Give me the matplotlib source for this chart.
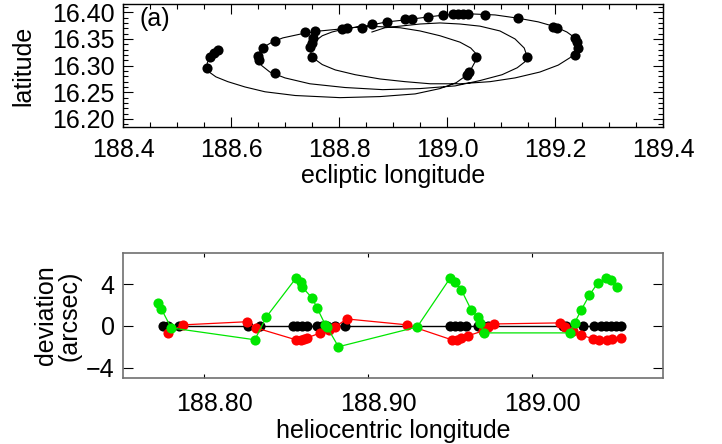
import matplotlib
matplotlib.use("Agg")
import matplotlib.pyplot as plt
import matplotlib.transforms as mtransforms
from matplotlib.ticker import MultipleLocator, FormatStrFormatter

plt.rcParams['font.family'] = ['Liberation Sans', 'DejaVu Sans']

# ---------------- panel (a): apparent path ----------------
path_lon = [188.578, 188.569, 188.561, 188.556, 188.556, 188.561, 188.572, 188.594, 188.626, 188.663,
            188.719, 188.802, 188.876, 188.941, 188.987, 189.017, 189.035, 189.046, 189.054, 189.054,
            189.044, 189.024, 188.987, 188.950, 188.913, 188.876, 188.839, 188.811, 188.787, 188.769,
            188.756, 188.748, 188.748, 188.754, 188.769, 188.793, 188.830, 188.876, 188.922, 188.969,
            189.024, 189.080, 189.126, 189.172, 189.206, 189.228, 189.241, 189.243, 189.237, 189.222,
            189.200, 189.169, 189.131, 189.089, 189.043, 188.996, 188.963, 188.926, 188.889, 188.848,
            188.806, 188.765, 188.728, 188.696, 188.676, 188.661, 188.652, 188.650, 188.657, 188.672,
            188.700, 188.746, 188.811, 188.881, 188.950, 189.015, 189.061, 189.102, 189.130, 189.144,
            189.148, 189.143, 189.126, 189.098, 189.061, 189.024, 188.987, 188.950, 188.913, 188.885,
            188.861]
path_lat = [16.331, 16.324, 16.316, 16.305, 16.296, 16.287, 16.279, 16.270, 16.260, 16.251,
            16.244, 16.240, 16.242, 16.247, 16.257, 16.268, 16.281, 16.296, 16.311, 16.322,
            16.333, 16.344, 16.356, 16.365, 16.371, 16.373, 16.373, 16.369, 16.363, 16.356,
            16.346, 16.335, 16.324, 16.313, 16.302, 16.292, 16.283, 16.275, 16.270, 16.266,
            16.266, 16.270, 16.277, 16.288, 16.301, 16.315, 16.328, 16.339, 16.352, 16.363,
            16.373, 16.382, 16.389, 16.395, 16.397, 16.395, 16.391, 16.386, 16.382, 16.374,
            16.369, 16.365, 16.359, 16.352, 16.344, 16.335, 16.324, 16.313, 16.300, 16.288,
            16.277, 16.266, 16.259, 16.255, 16.257, 16.262, 16.272, 16.283, 16.296, 16.307,
            16.318, 16.333, 16.350, 16.365, 16.374, 16.378, 16.380, 16.378, 16.374, 16.371,
            16.363]

obs_lon = [188.576, 188.569, 188.561, 188.556, 188.650, 188.652, 188.659, 188.681, 188.681,
           188.737, 188.756, 188.752, 188.750, 188.746, 188.750, 188.806, 188.815, 188.843,
           188.861, 188.889, 188.922, 188.935, 188.965, 188.993, 189.011, 189.020, 189.030,
           189.039, 189.070, 189.131, 189.196, 189.204, 189.237, 189.241, 189.243, 189.237,
           189.054, 189.041, 189.037, 189.148]
obs_lat = [16.330, 16.324, 16.316, 16.296, 16.318, 16.311, 16.333, 16.346, 16.287,
           16.363, 16.365, 16.352, 16.343, 16.334, 16.316, 16.369, 16.371, 16.371,
           16.378, 16.382, 16.387, 16.387, 16.391, 16.395, 16.397, 16.397, 16.397,
           16.397, 16.395, 16.389, 16.373, 16.371, 16.352, 16.344, 16.333, 16.320,
           16.316, 16.288, 16.283, 16.316]

# ---------------- panel (b): deviations ----------------
black_lon = [188.775, 188.778, 188.785, 188.827, 188.834, 188.854, 188.857, 188.860, 188.863, 188.869,
             188.872, 188.875, 188.880, 188.886, 188.950, 188.953, 188.956, 188.960, 188.967, 188.970,
             188.973, 189.019, 189.021, 189.031, 189.038, 189.042, 189.045, 189.048, 189.051, 189.054]
black_dev = [0.0] * len(black_lon)

red_lon = [188.778, 188.787, 188.826, 188.832, 188.856, 188.859, 188.861, 188.863, 188.871, 188.876,
           188.880, 188.887, 188.924, 188.951, 188.954, 188.957, 188.961, 188.970, 188.973, 188.977,
           189.017, 189.020, 189.025, 189.030, 189.037, 189.041, 189.046, 189.049, 189.054]
red_dev = [-0.67, 0.1, 0.4, -0.2, -1.33, -1.33, -1.24, -1.14, -0.67, -0.38,
           -0.1, 0.67, 0.1, -1.33, -1.33, -1.14, -0.95, -0.48, -0.1, 0.19,
           0.29, -0.1, -0.48, -0.86, -1.24, -1.33, -1.33, -1.24, -1.14]

green_lon = [188.772, 188.774, 188.780, 188.831, 188.838, 188.856, 188.859, 188.860, 188.866, 188.869,
             188.874, 188.875, 188.882, 188.930, 188.950, 188.953, 188.957, 188.963, 188.967, 188.968,
             188.971, 189.023, 189.026, 189.030, 189.035, 189.040, 189.045, 189.048, 189.052]
green_dev = [2.19, 1.62, -0.19, -1.33, 0.86, 4.57, 4.19, 3.71, 2.67, 1.71,
             0.1, -0.1, -2.0, -0.1, 4.57, 4.19, 3.43, 1.52, 0.86, 0.29,
             -0.67, -0.67, 0.29, 1.52, 2.95, 4.1, 4.57, 4.38, 3.71]

top_xticks = [188.4, 188.6, 188.8, 189.0, 189.2, 189.4]
top_yticks = [16.20, 16.25, 16.30, 16.35, 16.40]
bot_xticks = [188.80, 188.90, 189.00]
bot_yticks = [-4, 0, 4]

W, H = 722, 444
fig = plt.figure(figsize=(W / 100, H / 100), dpi=100)

FS = 18
MS = 7.3

# ---- top axes ----
ax1 = fig.add_axes([123 / W, 1 - 127 / H, 540 / W, 123 / H])
ax1.plot(path_lon, path_lat, color='black', lw=0.8, zorder=2)
ax1.plot(obs_lon, obs_lat, 'o', color='black', ms=MS, mew=0, zorder=3)
ax1.set_xlim(188.4, 189.4)
ax1.set_ylim(16.185, 16.4155)
ax1.set_xticks(top_xticks)
ax1.set_yticks(top_yticks)
ax1.xaxis.set_major_formatter(FormatStrFormatter('%.1f'))
ax1.yaxis.set_major_formatter(FormatStrFormatter('%.2f'))
ax1.xaxis.set_minor_locator(MultipleLocator(0.05))
ax1.yaxis.set_minor_locator(MultipleLocator(0.01))
ax1.tick_params(which='both', direction='in', top=True, right=True, width=0.8,
                labelsize=FS)
ax1.tick_params(axis='x', pad=8)
ax1.tick_params(axis='y', pad=6)
ax1.tick_params(which='major', length=7)
ax1.tick_params(which='minor', length=3.5)
ax1.set_xlabel('ecliptic longitude', fontsize=FS, labelpad=1)
ax1.set_ylabel('latitude', fontsize=FS)
ax1.yaxis.set_label_coords(-0.162, 0.5)
ax1.text(0.03, 0.88, '(a)', transform=ax1.transAxes, fontsize=FS, va='center', ha='left')
for s in ax1.spines.values():
    s.set_linewidth(1.0)

# ---- bottom axes ----
ax2 = fig.add_axes([123 / W, 1 - 378 / H, 540 / W, 125 / H])
x0, x1 = 188.7506, 189.0799
ax2.axhline(0, color='black', lw=1.0, zorder=1,
            xmin=(min(black_lon) - x0) / (x1 - x0),
            xmax=(max(black_lon) - x0) / (x1 - x0))
ax2.plot(black_lon, black_dev, 'o', color='black', ms=MS, mew=0, zorder=2)
ax2.plot(red_lon, red_dev, '-', color='#ff0000', lw=0.9, zorder=3)
ax2.plot(red_lon, red_dev, 'o', color='#ff0000', ms=MS, mew=0, zorder=3)
ax2.plot(green_lon, green_dev, '-', color='#00e600', lw=0.9, zorder=4)
ax2.plot(green_lon, green_dev, 'o', color='#00e600', ms=MS, mew=0, zorder=4)
ax2.set_xlim(x0, x1)
ax2.set_ylim(-5, 7)
ax2.set_xticks(bot_xticks)
ax2.set_yticks(bot_yticks)
ax2.xaxis.set_major_formatter(FormatStrFormatter('%.2f'))
ax2.tick_params(which='both', direction='in', top=True, right=True, width=0.8,
                labelsize=FS)
ax2.tick_params(axis='y', length=7, pad=6)
ax2.tick_params(axis='x', length=3, pad=10)
shift = mtransforms.ScaledTranslation(10 / 100, 0, fig.dpi_scale_trans)
for lab in ax2.get_xticklabels():
    lab.set_transform(lab.get_transform() + shift)
ax2.set_xlabel('heliocentric longitude', fontsize=FS, labelpad=2)
ax2.set_ylabel('deviation\n(arcsec)', fontsize=FS, linespacing=1.0)
ax2.yaxis.set_label_coords(-0.076, 0.5)
for s in ax2.spines.values():
    s.set_linewidth(1.2)
    s.set_color('#707070')

fig.savefig('out.png', dpi=100)
